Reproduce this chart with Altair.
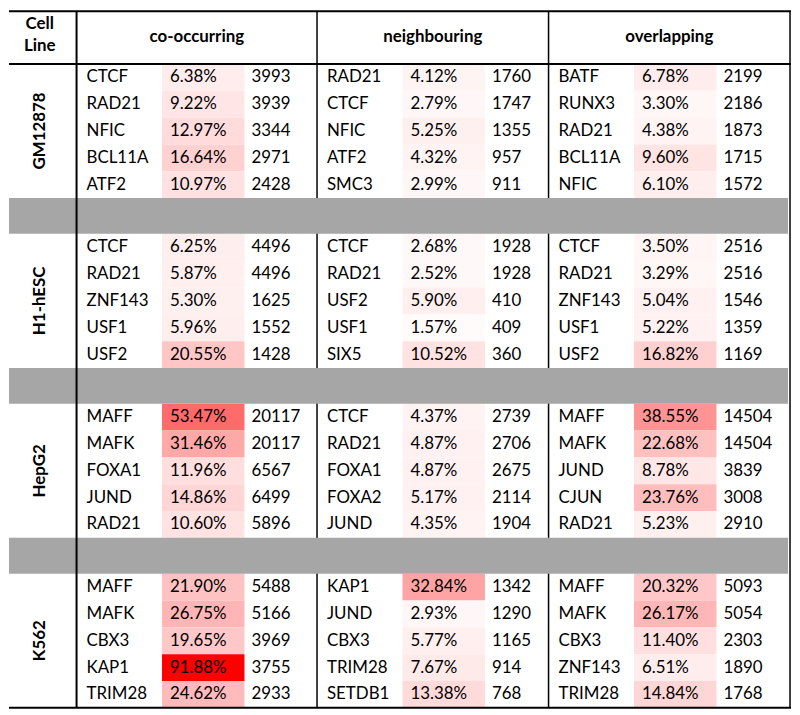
import altair as alt
import pandas as pd

# ---------------- data ----------------
cell_lines = ["GM12878", "H1-hESC", "HepG2", "K562"]
sections = ["co-occurring", "neighbouring", "overlapping"]

co_names = ["CTCF", "RAD21", "NFIC", "BCL11A", "ATF2",
            "CTCF", "RAD21", "ZNF143", "USF1", "USF2",
            "MAFF", "MAFK", "FOXA1", "JUND", "RAD21",
            "MAFF", "MAFK", "CBX3", "KAP1", "TRIM28"]
co_pct = [6.38, 9.22, 12.97, 16.64, 10.97,
          6.25, 5.87, 5.30, 5.96, 20.55,
          53.47, 31.46, 11.96, 14.86, 10.60,
          21.90, 26.75, 19.65, 91.88, 24.62]
co_count = [3993, 3939, 3344, 2971, 2428,
            4496, 4496, 1625, 1552, 1428,
            20117, 20117, 6567, 6499, 5896,
            5488, 5166, 3969, 3755, 2933]

ne_names = ["RAD21", "CTCF", "NFIC", "ATF2", "SMC3",
            "CTCF", "RAD21", "USF2", "USF1", "SIX5",
            "CTCF", "RAD21", "FOXA1", "FOXA2", "JUND",
            "KAP1", "JUND", "CBX3", "TRIM28", "SETDB1"]
ne_pct = [4.12, 2.79, 5.25, 4.32, 2.99,
          2.68, 2.52, 5.90, 1.57, 10.52,
          4.37, 4.87, 4.87, 5.17, 4.35,
          32.84, 2.93, 5.77, 7.67, 13.38]
ne_count = [1760, 1747, 1355, 957, 911,
            1928, 1928, 410, 409, 360,
            2739, 2706, 2675, 2114, 1904,
            1342, 1290, 1165, 914, 768]

ov_names = ["BATF", "RUNX3", "RAD21", "BCL11A", "NFIC",
            "CTCF", "RAD21", "ZNF143", "USF1", "USF2",
            "MAFF", "MAFK", "JUND", "CJUN", "RAD21",
            "MAFF", "MAFK", "CBX3", "ZNF143", "TRIM28"]
ov_pct = [6.78, 3.30, 4.38, 9.60, 6.10,
          3.50, 3.29, 5.04, 5.22, 16.82,
          38.55, 22.68, 8.78, 23.76, 5.23,
          20.32, 26.17, 11.40, 6.51, 14.84]
ov_count = [2199, 2186, 1873, 1715, 1572,
            2516, 2516, 1546, 1359, 1169,
            14504, 14504, 3839, 3008, 2910,
            5093, 5054, 2303, 1890, 1768]

# ---------------- layout (page pixel units) ----------------
X0, Y0 = 8, 8
W, H = 788, 706
TOP = 9
HEAD_BOT = 62
ROW_H = 27
GAP_H = 36
N_ROWS = 5
BLOCK_H = N_ROWS * ROW_H
BOTTOM = HEAD_BOT + 4 * BLOCK_H + 3 * GAP_H
CL_RIGHT = 76
SEC_LEFT = [76, 318, 551]
RIGHT = 794
FONT = "Lato"
FS = 17

series = [(co_names, co_pct, co_count),
          (ne_names, ne_pct, ne_count),
          (ov_names, ov_pct, ov_count)]

recs = []
for s, (names, pcts, counts) in enumerate(series):
    sl = SEC_LEFT[s]
    for i, (n, p, c) in enumerate(zip(names, pcts, counts)):
        b, r = divmod(i, N_ROWS)
        top = HEAD_BOT + b * (BLOCK_H + GAP_H) + r * ROW_H
        recs.append(dict(name=n, pct=p, pct_label=f"{p:.2f}%", count=str(c),
                         y0=top, y1=top + ROW_H, yc=top + ROW_H / 2,
                         xn=sl + 10, xp0=sl + 86, xp1=sl + 169,
                         xpt=sl + 94, xc=sl + 176))
df = pd.DataFrame(recs)

xs = alt.Scale(domain=[X0, X0 + W], nice=False, zero=False)
ys = alt.Scale(domain=[Y0, Y0 + H], reverse=True, nice=False, zero=False)

def X(f):
    return alt.X(f"{f}:Q", scale=xs, axis=None)

def Y(f):
    return alt.Y(f"{f}:Q", scale=ys, axis=None)

pmax = max(co_pct + ne_pct + ov_pct)

heat = alt.Chart(df).mark_rect().encode(
    x=X("xp0"), x2="xp1", y=Y("y0"), y2="y1",
    color=alt.Color("pct:Q", legend=None,
                    scale=alt.Scale(domain=[0, pmax], range=["#ffffff", "#ff0000"],
                                    interpolate="rgb")))

txt_kw = dict(align="left", baseline="middle", font=FONT, fontSize=FS, color="#000000")
names_t = alt.Chart(df).mark_text(**txt_kw).encode(x=X("xn"), y=Y("yc"), text="name:N")
pct_t = alt.Chart(df).mark_text(**txt_kw).encode(x=X("xpt"), y=Y("yc"), text="pct_label:N")
cnt_t = alt.Chart(df).mark_text(**txt_kw).encode(x=X("xc"), y=Y("yc"), text="count:N")

# section separators (hidden under gray bands)
sep_df = pd.DataFrame({"x": SEC_LEFT[1:], "y0": [TOP] * 2, "y1": [BOTTOM] * 2})
seps = alt.Chart(sep_df).mark_rule(color="#000000", strokeWidth=1.5).encode(
    x=X("x"), y=Y("y0"), y2="y1")

# gray bands between cell lines
gap_tops = [HEAD_BOT + (b + 1) * BLOCK_H + b * GAP_H for b in range(3)]
gap_df = pd.DataFrame({"x0": [X0] * 3, "x1": [RIGHT - 2] * 3,
                       "y0": gap_tops, "y1": [g + GAP_H for g in gap_tops]})
gaps = alt.Chart(gap_df).mark_rect(color="#a6a6a6").encode(
    x=X("x0"), x2="x1", y=Y("y0"), y2="y1")

# strong vertical lines
v_df = pd.DataFrame({"x": [CL_RIGHT], "y0": [TOP], "y1": [BOTTOM]})
vline = alt.Chart(v_df).mark_rule(color="#000000", strokeWidth=2).encode(
    x=X("x"), y=Y("y0"), y2="y1")
r_df = pd.DataFrame({"x": [RIGHT], "y0": [TOP], "y1": [BOTTOM]})
rline = alt.Chart(r_df).mark_rule(color="#000000", strokeWidth=1.5).encode(
    x=X("x"), y=Y("y0"), y2="y1")

# horizontal lines
h_df = pd.DataFrame({"y": [TOP, HEAD_BOT, BOTTOM], "x0": [X0] * 3, "x1": [RIGHT + 1] * 3})
hlines = alt.Chart(h_df).mark_rule(color="#000000", strokeWidth=2).encode(
    x=X("x0"), x2="x1", y=Y("y"))

# headers
sec_right = SEC_LEFT[1:] + [RIGHT]
hdr_df = pd.DataFrame({"label": sections,
                       "x": [(a + b) / 2 for a, b in zip(SEC_LEFT, sec_right)],
                       "y": [(TOP + HEAD_BOT) / 2 - 1] * 3})
hdr = alt.Chart(hdr_df).mark_text(align="center", baseline="middle", font=FONT,
                                  fontSize=FS, fontWeight="bold", color="#000000").encode(
    x=X("x"), y=Y("y"), text="label:N")

cl_hdr_df = pd.DataFrame({"label": ["Cell", "Line"],
                          "x": [(X0 + CL_RIGHT) / 2 - 3] * 2,
                          "y": [(TOP + HEAD_BOT) / 2 - 14, (TOP + HEAD_BOT) / 2 + 9]})
cl_hdr = alt.Chart(cl_hdr_df).mark_text(align="center", baseline="middle", font=FONT,
                                        fontSize=FS, fontWeight="bold", color="#000000").encode(
    x=X("x"), y=Y("y"), text="label:N")

# cell line labels (rotated)
cl_df = pd.DataFrame({"label": cell_lines,
                      "x": [(X0 + CL_RIGHT) / 2 - 3] * 4,
                      "y": [HEAD_BOT + b * (BLOCK_H + GAP_H) + BLOCK_H / 2 for b in range(4)]})
cl = alt.Chart(cl_df).mark_text(align="center", baseline="middle", angle=270, font=FONT,
                                fontSize=FS, fontWeight="bold", color="#000000").encode(
    x=X("x"), y=Y("y"), text="label:N")

chart = alt.layer(heat, seps, gaps, vline, rline, hlines,
                  names_t, pct_t, cnt_t, hdr, cl_hdr, cl).properties(
    width=W, height=H, padding=0, background="#ffffff"
).configure_view(stroke=None)

chart.save("out.html", embed_options={"renderer": "svg", "actions": False})
